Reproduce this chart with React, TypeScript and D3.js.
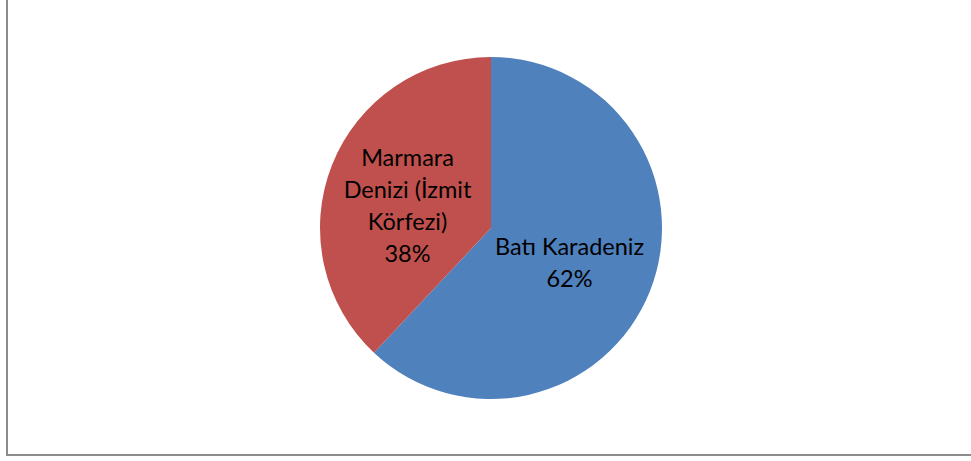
import { useEffect, useRef } from 'react';
import * as d3 from 'd3';

const regions = ['Batı Karadeniz', 'Marmara Denizi (İzmit Körfezi)'];
const shares = [62, 38];
const labelLines = [['Batı Karadeniz', '62%'], ['Marmara', 'Denizi (İzmit', 'Körfezi)', '38%']];
const sliceColors = ['#4F81BD', '#C0504D'];

export default function App() {
  const svgRef = useRef<SVGSVGElement | null>(null);

  useEffect(() => {
    if (!svgRef.current) return;
    const width = 971;
    const height = 461;
    const svg = d3.select(svgRef.current);
    svg.selectAll('*').remove();
    svg.attr('width', width).attr('height', height);

    svg.append('rect')
      .attr('x', 0).attr('y', 0).attr('width', width).attr('height', height)
      .attr('fill', '#ffffff');

    // chart frame (runs past the top and right edges)
    svg.append('rect')
      .attr('x', 7).attr('y', -10)
      .attr('width', 1000).attr('height', 465)
      .attr('fill', 'none')
      .attr('stroke', '#8c8c8c')
      .attr('stroke-width', 2);

    const cx = 491;
    const cy = 228;
    const R = 171;

    const data = regions.map((name, i) => ({ name, value: shares[i], i }));
    const pie = d3.pie<any>().value(d => d.value).sort(null);
    const arcs = pie(data);
    const arc = d3.arc<any>().innerRadius(0).outerRadius(R);
    const labelArc = d3.arc<any>().innerRadius(R * 0.5).outerRadius(R * 0.5);

    const g = svg.append('g').attr('transform', `translate(${cx},${cy})`);

    g.selectAll('path.slice')
      .data(arcs)
      .join('path')
      .attr('class', 'slice')
      .attr('d', arc as any)
      .attr('fill', d => sliceColors[d.data.i]);

    const nudge = [[-1, 3], [-4, 9]];
    const lineH = 32;
    arcs.forEach(a => {
      const [lx, ly] = labelArc.centroid(a);
      const lines = labelLines[a.data.i];
      const [nx, ny] = nudge[a.data.i];
      const top = ly + ny - ((lines.length - 1) * lineH) / 2;
      const t = g.append('text')
        .attr('text-anchor', 'middle')
        .attr('font-family', 'Lato, "Open Sans", sans-serif')
        .attr('font-size', 23.5)
        .attr('fill', '#000000');
      lines.forEach((ln, k) => {
        t.append('tspan')
          .attr('x', lx + nx)
          .attr('y', top + k * lineH)
          .attr('dy', '0.35em')
          .text(ln);
      });
    });
  }, []);

  return (
    <svg
      ref={svgRef}
      style={{ position: 'absolute', left: 0, top: 0, display: 'block' }}
    />
  );
}
